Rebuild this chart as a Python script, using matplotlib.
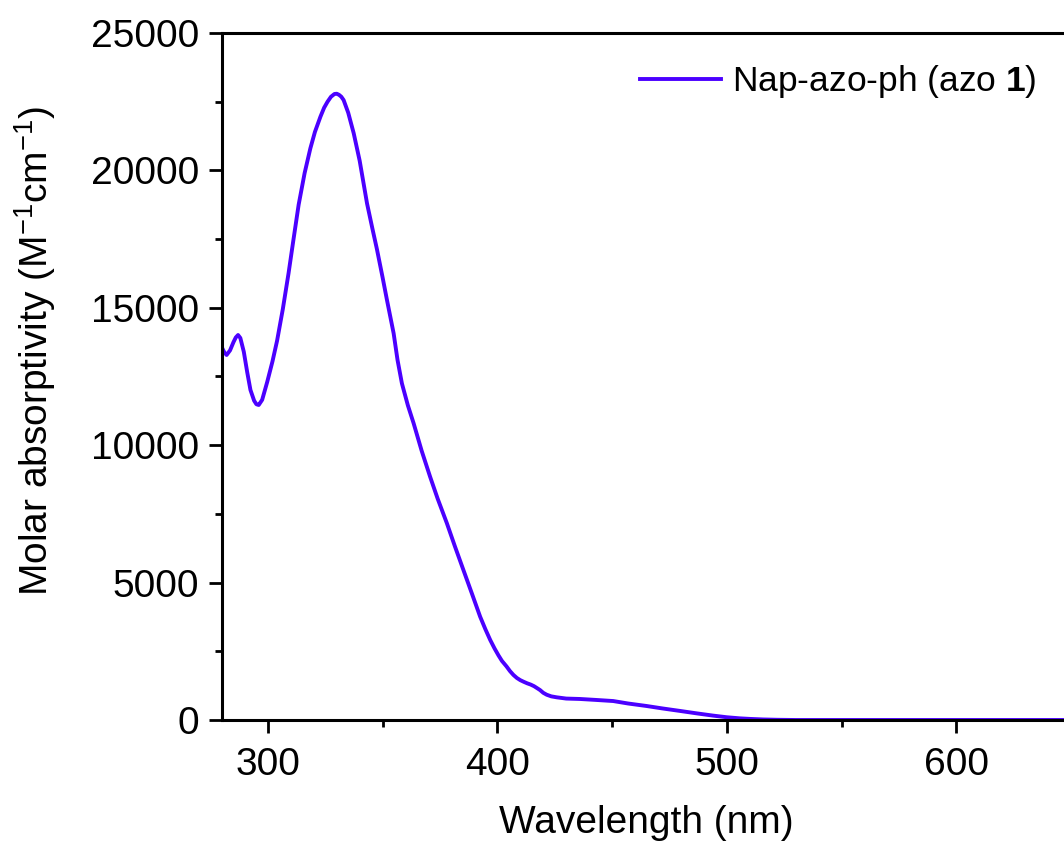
import matplotlib.pyplot as plt
from matplotlib.ticker import MultipleLocator

plt.rcParams['font.family'] = ['Liberation Sans', 'DejaVu Sans']
plt.rcParams['mathtext.fontset'] = 'custom'
plt.rcParams['mathtext.rm'] = 'Liberation Sans'
plt.rcParams['mathtext.bf'] = 'Liberation Sans:bold'
plt.rcParams['mathtext.default'] = 'regular'

# spectrum
wavelength = [280, 281, 282, 283.5, 285, 286, 287, 288, 289.5, 291, 292.4,
              294, 295, 296, 297.5, 299.7, 302, 304, 306.5, 309, 311, 313.4,
              316, 318.5, 320.5, 322.9, 324.5, 326, 327.5, 329, 330, 331,
              332, 333, 335, 337.4, 340, 343.2, 345.5, 347.5, 350, 351.9,
              354.8, 356.5, 358.4, 361, 363.5, 367, 370.7, 374, 378, 381.5,
              385.2, 389, 392.5, 394.8, 396.9, 398.8, 400.5, 402, 404, 405.5,
              407, 408.5, 410, 411.5, 413, 414.5, 416, 417.5, 418.6, 420,
              421.5, 423.5, 425.9, 430, 436, 443, 450.5, 457, 465, 472, 479.6,
              487, 494, 500, 505.7, 510, 515.8, 522, 530, 560, 600, 650]
absorptivity = [13550, 13380, 13283, 13450, 13750, 13920, 14010, 13900, 13400,
                12650, 12010, 11620, 11490, 11463, 11650, 12300, 13050, 13800,
                14950, 16255, 17400, 18750, 19900, 20800, 21400, 21955, 22280,
                22500, 22680, 22780, 22790, 22750, 22680, 22560, 22100, 21350,
                20350, 18800, 17900, 17140, 16100, 15280, 14070, 13100, 12250,
                11450, 10800, 9800, 8850, 8050, 7160, 6320, 5460, 4580, 3760,
                3300, 2910, 2600, 2350, 2150, 1950, 1780, 1640, 1530, 1450,
                1390, 1335, 1290, 1230, 1150, 1090, 990, 920, 860, 825, 780,
                765, 730, 690, 600, 510, 420, 330, 240, 160, 100, 60, 40, 20,
                8, 0, 0, 0, 0]
series_label = 'Nap-azo-ph (azo $\\mathbf{1}$)'

fig = plt.figure(figsize=(10.64, 8.46), dpi=100)
# right end of the axis (650 nm) sits just past the picture edge, as in the reference
ax = fig.add_axes([222 / 1064, 126 / 846, (1071 - 222) / 1064, 687 / 846])

ax.plot(wavelength, absorptivity, color='#4B00FF', lw=2.8, label=series_label)

ax.set_xlim(280, 650)
ax.set_ylim(0, 25000)
ax.set_xticks([300, 400, 500, 600])
ax.xaxis.set_minor_locator(MultipleLocator(50))
ax.yaxis.set_major_locator(MultipleLocator(5000))
ax.yaxis.set_minor_locator(MultipleLocator(2500))
ax.tick_params(which='both', direction='out', width=2, labelsize=28)
ax.tick_params(which='major', length=9.5, pad=7)
ax.tick_params(axis='x', which='major', pad=10)
ax.tick_params(which='minor', length=5)
for s in ax.spines.values():
    s.set_linewidth(2.2)

ax.set_xlabel('Wavelength (nm)', fontsize=28, labelpad=16)
ax.set_ylabel('Molar absorptivity (M$^{\u22121}$cm$^{\u22121}$)', fontsize=28)
ax.yaxis.set_label_coords((58 - 222) / 849, (720 - 351) / 687)

ax.legend(loc='upper left', bbox_to_anchor=(640 / 1064, 1 - 63 / 846),
          bbox_transform=fig.transFigure, frameon=False, fontsize=25.5,
          borderpad=0, borderaxespad=0, handlelength=2.3, handletextpad=0.3)

fig.savefig('out.png', dpi=100)
